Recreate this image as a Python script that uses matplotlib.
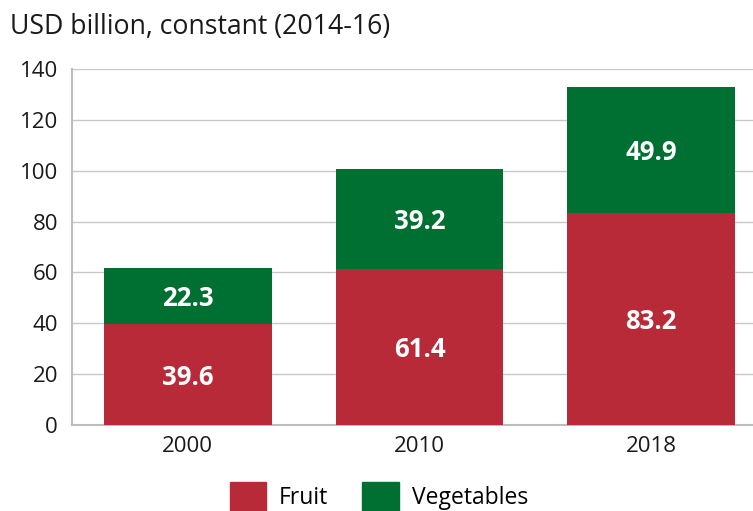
import matplotlib.pyplot as plt
import matplotlib.patches as mpatches
import numpy as np

plt.rcParams['font.family'] = ['Open Sans', 'DejaVu Sans']

years = ['2000', '2010', '2018']
fruit = [39.6, 61.4, 83.2]
vegetables = [22.3, 39.2, 49.9]

red = '#b82a37'
green = '#007032'

fig = plt.figure(figsize=(7.53, 5.11), dpi=100)
ax = fig.add_axes([72/753, 86/511, 1 - 72/753, 356/511])

x = np.arange(len(years))
w = 0.724
ax.bar(x, fruit, w, color=red, zorder=3)
ax.bar(x, vegetables, w, bottom=fruit, color=green, zorder=3)

for i in range(len(years)):
    ax.text(x[i], fruit[i] / 2 - 1, f'{fruit[i]:.1f}', ha='center', va='center',
            color='white', fontsize=18.5, fontweight='bold', zorder=4)
    ax.text(x[i], fruit[i] + vegetables[i] / 2 - 1, f'{vegetables[i]:.1f}', ha='center',
            va='center', color='white', fontsize=18.5, fontweight='bold', zorder=4)

ax.set_xlim(-0.5, 2.44)
ax.set_ylim(0, 140)
ax.set_yticks(np.arange(0, 141, 20))
ax.set_xticks(x)
ax.set_xticklabels(years)
ax.tick_params(axis='both', length=0, labelsize=16, colors='#1a1a1a')
ax.tick_params(axis='y', pad=10)
ax.tick_params(axis='x', pad=8)
ax.grid(axis='y', color='#c8c8c8', linewidth=1, zorder=0)
for s in ['top', 'right']:
    ax.spines[s].set_visible(False)
for s in ['left', 'bottom']:
    ax.spines[s].set_color('#bdbdbd')
    ax.spines[s].set_linewidth(1.5)

fig.text(10/753, 1 - 27/511, 'USD billion, constant (2014-16)', fontsize=19.2,
         ha='left', va='center', color='#1a1a1a')

handles = [mpatches.Patch(color=red, label='Fruit'),
           mpatches.Patch(color=green, label='Vegetables')]
fig.legend(handles=handles, loc='upper center', bbox_to_anchor=(0.503, 29/511),
           ncol=2, frameon=False, fontsize=16.5, handlelength=1.6, handleheight=1.6,
           handletextpad=0.55, columnspacing=1.5, borderpad=0, borderaxespad=0)

fig.savefig('out.png', dpi=100)
